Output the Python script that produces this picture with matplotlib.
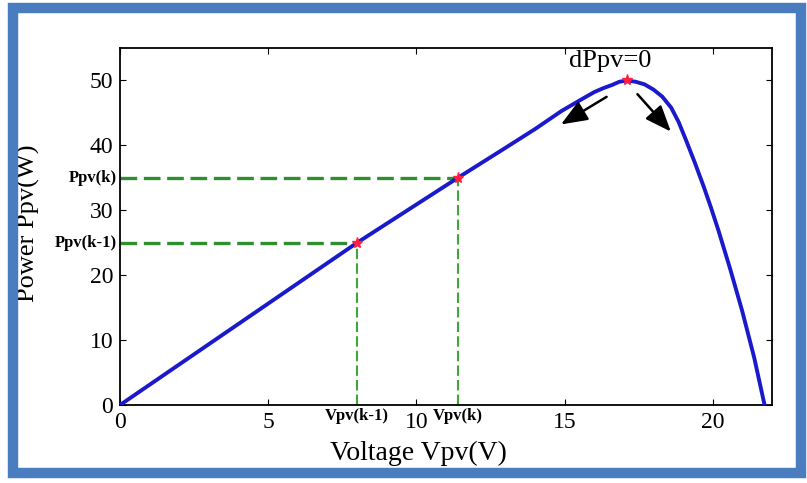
import matplotlib
matplotlib.use("Agg")
import matplotlib.pyplot as plt
from matplotlib.patches import Rectangle

# P-V curve of the PV panel
voltage = [0, 4, 8, 11.4, 13, 14, 14.9, 15.5, 16, 16.3, 16.6, 16.85, 17.1, 17.4,
           17.7, 18.0, 18.3, 18.6, 18.85, 19.1, 19.4, 19.7, 19.95, 20.2, 20.6,
           21.0, 21.4, 21.75]
power = [0, 12.5, 25, 35, 39.6, 42.5, 45.3, 46.9, 48.2, 48.8, 49.3, 49.8, 50, 49.8,
         49.4, 48.6, 47.5, 45.8, 43.6, 40.8, 37.3, 33.6, 30.3, 26.8, 20.8,
         14.4, 7.3, 0]

# operating points
op_v = [8.0, 11.4]
op_p = [25.0, 35.0]
op_vlabels = ["Vpv(k-1)", "Vpv(k)"]
op_plabels = ["Ppv(k-1)", "Ppv(k)"]
mpp_v, mpp_p = 17.1, 50.0

xticks = [0, 5, 10, 15, 20]
yticks = [0, 10, 20, 30, 40, 50]

plt.rcParams['font.family'] = ['Liberation Serif', 'DejaVu Serif']

fig = plt.figure(figsize=(8.07, 4.83), dpi=100)
ax = fig.add_axes([0.1487, 0.1615, 0.8079, 0.7391])

# green guide lines
for v, p in zip(op_v, op_p):
    ax.plot([0, v], [p, p], color='#2f8f2f', lw=2.4, ls=(0, (5, 2)), zorder=2)
    ax.plot([v, v], [0, p], color='#3aa83a', lw=1.5, ls=(0, (5, 2)), zorder=2)

ax.plot(voltage, power, color='#1a1acc', lw=2.8, zorder=3)
ax.plot(op_v + [mpp_v], op_p + [mpp_p], ls='none', marker='*', color='#ff2040',
        ms=8, zorder=4)

# arrows away from the maximum power point
arrow = dict(arrowstyle='-|>,head_length=0.8,head_width=0.32', color='black',
             lw=1.8, mutation_scale=20)
ax.annotate("", xy=(14.8, 43.0), xytext=(16.5, 47.7), arrowprops=arrow)
ax.annotate("", xy=(18.65, 41.8), xytext=(17.4, 48.2), arrowprops=arrow)
ax.text(16.55, 53.0, "dPpv=0", ha='center', va='center', fontsize=19)

ax.set_xlim(0, 22)
ax.set_ylim(0, 55)
ax.set_xticks(xticks)
ax.set_yticks(yticks)
ax.tick_params(direction='in', top=True, right=True, labelsize=17, length=4,
               colors='black', pad=5)
for s in ax.spines.values():
    s.set_linewidth(1.3)

for v, lab in zip(op_v, op_vlabels):
    ax.text(v, -0.5, lab, ha='center', va='top', fontsize=12, fontweight='bold')
for p, lab in zip(op_p, op_plabels):
    ax.text(-0.1, p, lab, ha='right', va='center', fontsize=12, fontweight='bold')

ax.set_xlabel("Voltage Vpv(V)", fontsize=20)
ax.xaxis.set_label_coords(0.457, -0.1)
ax.set_ylabel("Power Ppv(W)", fontsize=19)
ax.yaxis.set_label_coords(-0.123, 0.51)

# blue picture frame
blue = '#4a7dbf'
fig.patches.append(Rectangle((0.0161, 0.0197), 0.9765, 0.9637,
                             transform=fig.transFigure, fill=False, ec=blue,
                             lw=7.5, zorder=0))

fig.savefig("out.png", dpi=100)
